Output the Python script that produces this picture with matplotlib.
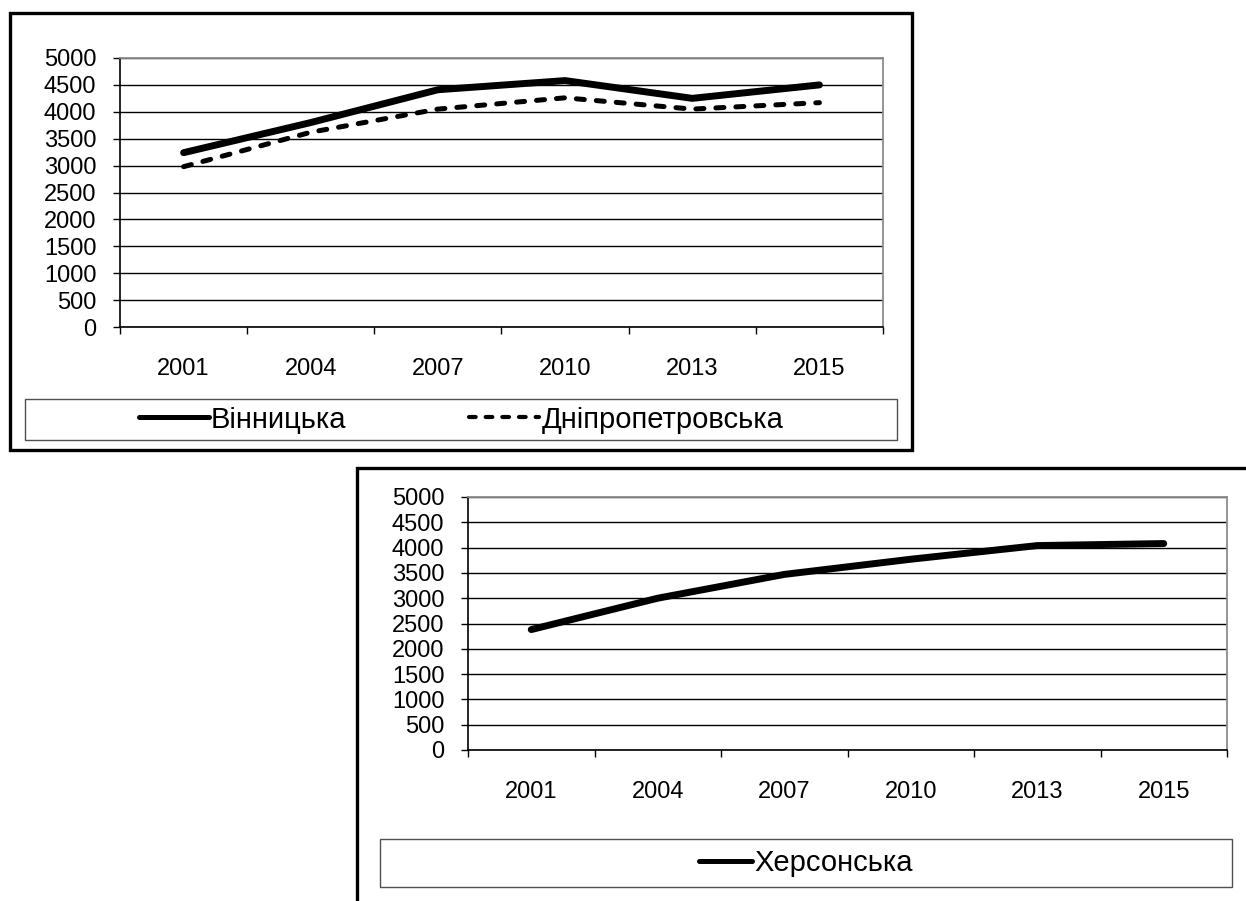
import matplotlib
matplotlib.use("Agg")
import matplotlib.pyplot as plt
from matplotlib.patches import Rectangle
from matplotlib.lines import Line2D
import numpy as np

plt.rcParams['font.family'] = ['Liberation Sans', 'DejaVu Sans']

years = ['2001', '2004', '2007', '2010', '2013', '2015']
vinnytska = [3240, 3800, 4410, 4580, 4250, 4500]
dnipro = [2980, 3620, 4050, 4260, 4050, 4170]
kherson = [2380, 3000, 3470, 3770, 4040, 4080]
yticks = np.arange(0, 5001, 500)

W, H = 1246, 901
fig = plt.figure(figsize=(W / 100, H / 100), dpi=100)
fig.patch.set_facecolor('white')


def box(x0, y0, x1, y1):
    # pixel box (top-left origin) -> figure fraction [left, bottom, width, height]
    return [x0 / W, 1 - y1 / H, (x1 - x0) / W, (y1 - y0) / H]


def frame(x0, y0, x1, y1, lw, color):
    l, b, w, h = box(x0, y0, x1, y1)
    r = Rectangle((l, b), w, h, transform=fig.transFigure, fill=False,
                  edgecolor=color, linewidth=lw, clip_on=False)
    fig.add_artist(r)


def setup_axes(ax):
    n = len(years)
    ax.set_xlim(-0.5, n - 0.5)
    ax.set_ylim(0, 5000)
    ax.set_yticks(yticks)
    ax.set_yticklabels([str(v) for v in yticks], fontsize=17)
    ax.set_xticks(np.arange(-0.5, n, 1.0))
    ax.set_xticklabels([])
    ax.set_xticks(np.arange(n), minor=True)
    ax.set_xticklabels(years, minor=True, fontsize=17)
    ax.tick_params(axis='x', which='major', length=5, width=1, direction='out', color='black')
    ax.tick_params(axis='x', which='minor', length=0, pad=22)
    ax.tick_params(axis='y', length=5, width=1, direction='out', pad=12)
    ax.grid(axis='y', color='black', linewidth=1.0)
    ax.set_axisbelow(True)
    for side in ['top', 'right']:
        ax.spines[side].set_color('#8c8c8c')
        ax.spines[side].set_linewidth(1.3)
    for side in ['left', 'bottom']:
        ax.spines[side].set_color('black')
        ax.spines[side].set_linewidth(1.2)


# upper chart
frame(10, 13, 912, 450, 2.4, 'black')
ax1 = fig.add_axes(box(120, 58, 883, 327))
x = np.arange(len(years))
ax1.plot(x, vinnytska, color='black', linewidth=5, solid_capstyle='round', solid_joinstyle='round')
ax1.plot(x, dnipro, color='black', linewidth=3.6, dashes=(1.6, 2.4), dash_capstyle='round')
setup_axes(ax1)
frame(25, 399, 897, 440, 1.0, '#505050')
h1 = [Line2D([], [], color='black', linewidth=3.6, solid_capstyle='round'),
      Line2D([], [], color='black', linewidth=3.0, dashes=(1.6, 2.4), dash_capstyle='round')]
fig.legend(h1, ['Вінницька', 'Дніпропетровська'], loc='center',
           bbox_to_anchor=((25 + 897) / 2 / W, 1 - 419.5 / H), ncol=2, frameon=False,
           fontsize=21, handlelength=2.4, handletextpad=0.08, columnspacing=4.2)

# lower chart
frame(357, 468, 1262, 918, 2.4, 'black')
ax2 = fig.add_axes(box(468, 497, 1227, 750))
ax2.plot(x, kherson, color='black', linewidth=5, solid_capstyle='round', solid_joinstyle='round')
setup_axes(ax2)
frame(380, 839, 1232, 887, 1.0, '#505050')
h2 = [Line2D([], [], color='black', linewidth=3.6, solid_capstyle='round')]
fig.legend(h2, ['Херсонська'], loc='center',
           bbox_to_anchor=((380 + 1232) / 2 / W, 1 - 863 / H), frameon=False,
           fontsize=21, handlelength=1.8, handletextpad=0.08)

fig.savefig('out.png', dpi=100, facecolor='white')
